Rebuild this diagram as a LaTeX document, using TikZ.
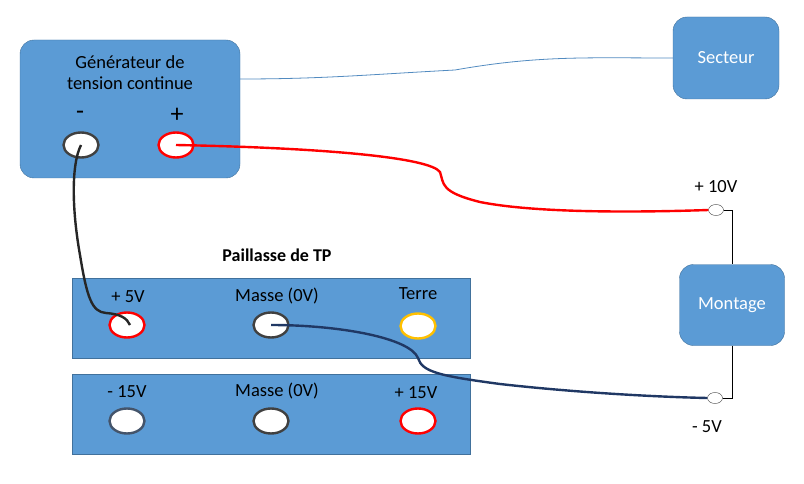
\documentclass[tikz,border=0pt]{standalone}
\usepackage{fontspec}
\setmainfont{Carlito}
\usetikzlibrary{shapes.geometric}
\definecolor{BoxBlue}{HTML}{5B9BD5}
\definecolor{BoxEdge}{HTML}{41719C}
\definecolor{PlugRed}{HTML}{FF0000}
\definecolor{PlugGrey}{HTML}{404040}
\definecolor{PlugSlate}{HTML}{44546A}
\definecolor{PlugGold}{HTML}{FFC000}
\definecolor{WireNavy}{HTML}{203864}
\definecolor{WireBlack}{HTML}{262626}

\begin{document}
\begin{tikzpicture}[
  x=1pt, y=-1pt,
  box/.style={draw=BoxEdge,fill=BoxBlue,rounded corners=14pt,align=center,inner sep=0pt},
  panel/.style={draw=BoxEdge,fill=BoxBlue,minimum width=398pt,minimum height=80pt,inner sep=0pt},
  plug/.style={ellipse,draw=#1,fill=white,line width=2.4pt,minimum width=35pt,minimum height=25pt,inner sep=0pt},
  pin/.style={ellipse,draw=PlugGrey,fill=white,thin,minimum width=15pt,minimum height=11pt,inner sep=0pt},
  lbl/.style={font=\fontsize{18.5}{21}\selectfont},
  wire/.style={line width=2.4pt}
]
  \useasboundingbox (0,0) rectangle (804,484);

  % generateur
  \node[box,minimum width=220pt,minimum height=138pt] (gen) at (130,109) {};
  \node[lbl,align=center] (gentxt) at (130,73) {Générateur de\\tension continue};
  \node[font=\fontsize{26}{28}\selectfont] (minus) at (80,115) {-};
  \node[font=\fontsize{26}{28}\selectfont] (plus) at (177,115) {+};
  \node[plug=PlugGrey] (gm) at (81,145) {};
  \node[plug=PlugRed] (gp) at (176,145) {};

  % secteur et montage
  \node[box,minimum width=106pt,minimum height=82pt,text=white,lbl] (sect) at (726,58) {Secteur};
  \node[box,minimum width=105pt,minimum height=81pt,text=white,lbl] (mont) at (732,305) {Montage};
  \node[pin] (ten) at (716,210) {};
  \node[pin] (five) at (715,398) {};
  \node[lbl] (tenlbl) at (716,187) {+ 10V};
  \node[lbl] (fivelbl) at (707,427) {- 5V};

  % paillasse
  \node[font=\bfseries\fontsize{18}{21}\selectfont] (pail) at (277,255) {Paillasse de TP};
  \node[panel] (top) at (271,318) {};
  \node[panel] (bot) at (271,414) {};
  \node[lbl] (l5) at (128,297) {+ 5V};
  \node[lbl] (lm1) at (277,296) {Masse (0V)};
  \node[lbl] (lt) at (418,294) {Terre};
  \node[plug=PlugRed] (p5) at (127,325) {};
  \node[plug=PlugGrey] (m1) at (271,325) {};
  \node[plug=PlugGold] (terre) at (418,326) {};
  \node[lbl] (lm15) at (127,392) {- 15V};
  \node[lbl] (lm2) at (277,391) {Masse (0V)};
  \node[lbl] (lp15) at (416,393) {+ 15V};
  \node[plug=PlugSlate] (m15) at (127,421) {};
  \node[plug=PlugGrey] (m2) at (271,421) {};
  \node[plug=PlugRed] (p15) at (418,421) {};

  % fils
  \draw[BoxBlue!90!black,line width=0.8pt] ([yshift=30pt]gen.east) to[out=0,in=183] (455,70)
    to[out=10,in=180] (sect.west);
  \draw[PlugRed,wire] (gp.center) .. controls (330,148) and (430,158) .. (440,172)
    .. controls (444,184) and (440,192) .. (480,202)
    .. controls (540,214) and (650,212) .. (ten.west);
  \draw[WireBlack,wire] (gm.center) .. controls (71,165) and (72,210) .. (80,255)
    .. controls (87,298) and (92,312) .. (106,313)
    .. controls (120,314) and (127,318) .. (130,325);
  \draw[WireNavy,wire] (m1.center) .. controls (340,325) and (410,338) .. (418,358)
    .. controls (422,372) and (440,376) .. (500,384)
    .. controls (580,393) and (660,397) .. (five.west);
  \draw[thin] (ten.east) -| (mont.north);
  \draw[thin] (mont.south) |- (five.east);
\end{tikzpicture}
\end{document}
